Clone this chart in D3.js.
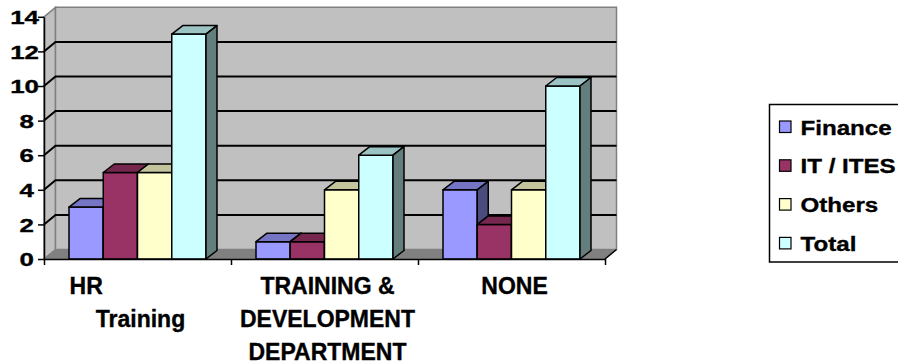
<!DOCTYPE html>
<html>
<head>
<meta charset="utf-8">
<script src="https://cdn.jsdelivr.net/npm/d3@7"></script>
<style>
  body { margin: 0; background: #fff; }
  svg text { font-family: "Liberation Sans", Arial, sans-serif; font-weight: bold; fill: #000; stroke: #000; stroke-width: 0.35px; }
</style>
</head>
<body>
<svg id="chart" width="898" height="362"></svg>
<script>
// data
var categories = ["HR Training", "TRAINING & DEVELOPMENT DEPARTMENT", "NONE"];
// the first label is padded with spaces, that's why "HR" sits left of "Training"
var categoryLines = [["HR                 ", "Training"], ["TRAINING &", "DEVELOPMENT", "DEPARTMENT"], ["NONE"]];
var seriesNames = ["Finance", "IT / ITES", "Others", "Total"];
var finance = [3, 1, 4];
var itites = [5, 1, 2];
var others = [5, 4, 4];
var total = [13, 6, 10];
var yTicks = [0, 2, 4, 6, 8, 10, 12, 14];
var colors = ["#9999ff", "#993366", "#ffffcc", "#ccffff"];

var seriesValues = [finance, itites, others, total];

var svg = d3.select("#chart");

var L = 44, R = 605;
var x0 = d3.scaleBand().domain(categories).range([L, R]);
var x1 = d3.scaleBand().domain(seriesNames).range([25, 162]);
var y = d3.scaleLinear().domain([0, 14]).range([259, 16.8]);
var xb = d3.scaleLinear().domain([0, categories.length]).range([L, R]);

// depth offsets of the 3d walls and the bars
var wdx = 11.5, wdy = -9.5, bdx = 11, bdy = -8.5;

function pts(a) { return a.map(function(p) { return p.join(","); }).join(" "); }
function shade(c, k) { return d3.rgb(c).darker(k).formatHex(); }

var y0 = y(0), yT = y(14);

// side wall, back wall, floor
svg.append("polygon")
    .attr("points", pts([[L, y0], [L, yT], [L + wdx, yT + wdy], [L + wdx, y0 + wdy]]))
    .attr("fill", "#c0c0c0").attr("stroke", "#808080").attr("stroke-width", 1.5);
svg.append("polygon")
    .attr("points", pts([[L + wdx, yT + wdy], [R + wdx, yT + wdy], [R + wdx, y0 + wdy], [L + wdx, y0 + wdy]]))
    .attr("fill", "#c0c0c0").attr("stroke", "#808080").attr("stroke-width", 1.5);
svg.append("polygon")
    .attr("points", pts([[L, y0], [R, y0], [R + wdx, y0 + wdy], [L + wdx, y0 + wdy]]))
    .attr("fill", "#808080").attr("stroke", "#808080");
svg.append("line")
    .attr("x1", R).attr("y1", y0).attr("x2", R + wdx).attr("y2", y0 + wdy)
    .attr("stroke", "#000").attr("stroke-width", 1.5);

// gridlines on the side and back walls
svg.append("g").selectAll("polyline")
    .data(yTicks.filter(function(v) { return v > 0 && v < 14; }))
    .enter().append("polyline")
    .attr("points", function(v) { return pts([[L, y(v)], [L + wdx, y(v) + wdy], [R + wdx, y(v) + wdy]]); })
    .attr("fill", "none").attr("stroke", "#000").attr("stroke-width", 2);

// bars
var bars = [];
categories.forEach(function(c, i) {
    seriesNames.forEach(function(s, j) {
        bars.push({ cat: c, ser: s, j: j, value: seriesValues[j][i] });
    });
});

var bar = svg.append("g").selectAll("g").data(bars).enter().append("g");
bar.each(function(d) {
    var g = d3.select(this);
    var x = x0(d.cat) + x1(d.ser), w = x1.bandwidth(), yt = y(d.value);
    g.append("rect")
        .attr("x", x).attr("y", yt).attr("width", w).attr("height", y0 - yt)
        .attr("fill", colors[d.j]);
    g.append("polygon")
        .attr("points", pts([[x, yt], [x + bdx, yt + bdy], [x + w + bdx, yt + bdy], [x + w, yt]]))
        .attr("fill", shade(colors[d.j], 0.75));
    g.append("polygon")
        .attr("points", pts([[x + w, yt], [x + w + bdx, yt + bdy], [x + w + bdx, y0 + bdy], [x + w, y0]]))
        .attr("fill", shade(colors[d.j], 2));
    g.selectAll("rect,polygon")
        .attr("stroke", "#000").attr("stroke-width", 1.5).attr("stroke-linejoin", "round");
});

// y axis
var yAxis = svg.append("g")
    .attr("transform", "translate(" + L + ",0)")
    .call(d3.axisLeft(y).tickValues(yTicks).tickSize(6).tickSizeOuter(0));
yAxis.select(".domain").attr("stroke", "#000").attr("stroke-width", 1.5);
yAxis.selectAll(".tick line").attr("stroke", "#000").attr("stroke-width", 1.5);
yAxis.selectAll(".tick text")
    .attr("x", 0).attr("dy", "0.36em")
    .attr("transform", function(v) { return "translate(" + (v >= 10 ? -5 : -10) + ",0) scale(1.4,1)"; })
    .style("font-size", "18.5px");

// x axis, ticks between categories
var xAxis = svg.append("g")
    .attr("transform", "translate(0," + y0 + ")")
    .call(d3.axisBottom(xb).tickValues(d3.range(categories.length + 1)).tickSize(6).tickSizeOuter(0).tickFormat(""));
xAxis.select(".domain").attr("stroke", "#000").attr("stroke-width", 1.5);
xAxis.selectAll(".tick line").attr("stroke", "#000").attr("stroke-width", 1.5);

// category labels
svg.append("g").selectAll("text")
    .data(categories)
    .enter().append("text")
    .attr("xml:space", "preserve")
    .style("white-space", "pre")
    .attr("text-anchor", "middle")
    .style("font-size", "23px")
    .each(function(c, i) {
        var t = d3.select(this);
        categoryLines[i].forEach(function(line, k) {
            t.append("tspan")
                .attr("x", x0(c) + x0.bandwidth() / 2 + 3)
                .attr("y", 293.5 + k * 33)
                .text(line);
        });
    });

// legend
var legend = svg.append("g");
legend.append("rect")
    .attr("x", 769.5).attr("y", 104.5).attr("width", 140).attr("height", 157.5)
    .attr("fill", "#fff").attr("stroke", "#000").attr("stroke-width", 1.5);
var item = legend.selectAll("g.item").data(seriesNames).enter().append("g")
    .attr("class", "item")
    .attr("transform", function(d, i) { return "translate(0," + (127 + i * 38.8) + ")"; });
item.append("rect")
    .attr("x", 779.5).attr("y", -6).attr("width", 11.5).attr("height", 11.5)
    .attr("fill", function(d, i) { return colors[i]; })
    .attr("stroke", "#000").attr("stroke-width", 1.2);
item.append("text")
    .attr("transform", "translate(800.5,7.5) scale(1.15,1)")
    .style("font-size", "21px")
    .text(function(d) { return d; });
</script>
</body>
</html>
